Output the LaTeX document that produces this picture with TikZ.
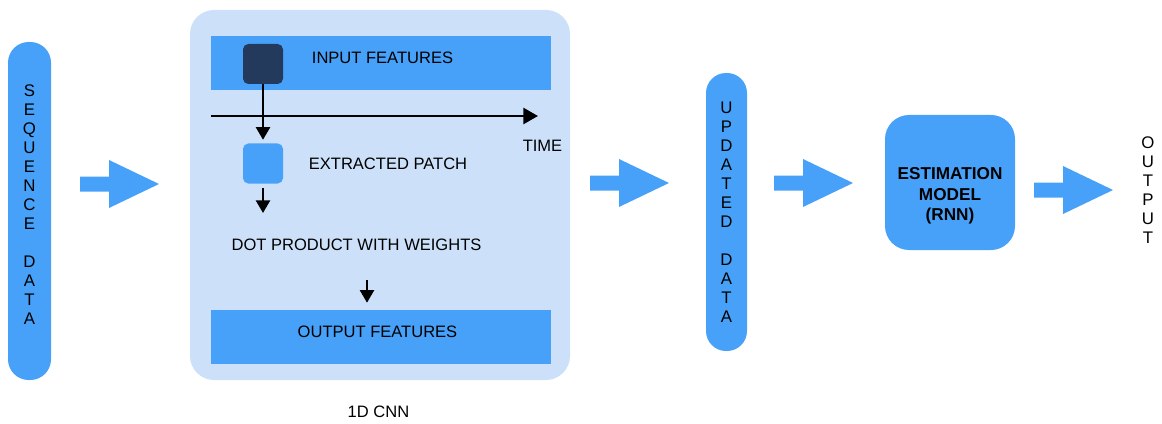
\documentclass[tikz,border=0pt]{standalone}
\usepackage{fontspec}
\setmainfont{Liberation Sans}
\usetikzlibrary{arrows.meta}
\definecolor{mblue}{RGB}{71,161,248}
\definecolor{panelblue}{RGB}{204,225,249}
\definecolor{darksq}{RGB}{35,58,92}
\tikzset{
  txt/.style={inner sep=0pt, font=\fontsize{12.4}{14.9}\selectfont},
  vtxt/.style={inner sep=0pt, align=center, font=\fontsize{12.6}{14.25}\selectfont},
  pill/.style={fill=mblue, inner sep=0pt},
  barbox/.style={fill=mblue, inner sep=0pt, minimum width=255pt, minimum height=40.5pt},
  sqbox/.style={inner sep=0pt, minimum size=30pt, rounded corners=4pt},
  conn/.style={line width=1.9pt, -{Triangle[length=9.5pt,width=10.5pt]}},
  axisline/.style={line width=1.9pt, -{Triangle[length=11pt,width=12pt]}},
  blockarrow/.pic={\fill[mblue] (0,-7.5) -- (29,-7.5) -- (29,-24) -- (79,0) -- (29,24) -- (29,7.5) -- (0,7.5) -- cycle;}
}
\begin{document}
\begin{tikzpicture}[x=0.75pt,y=-0.75pt]
\useasboundingbox (0,0) rectangle (1162,424);

% sequence data
\node[pill, rounded corners=15.5pt, minimum width=32.25pt, minimum height=253.5pt] (seq) at (29.5,211) {};
\node[vtxt] (seqlabel) at (29.5,204.5) {S\\E\\Q\\U\\E\\N\\C\\E\\[14.25pt]D\\A\\T\\A};

\pic (arr1) at (80,184) {blockarrow};

% 1D CNN panel
\node[fill=panelblue, rounded corners=18pt, inner sep=0pt, minimum width=285pt, minimum height=277.5pt] (cnn) at (380,195) {};
\node[barbox] (inbar) at (381,63) {};
\node[sqbox, fill=darksq] (src) at (263,64) {};
\node[txt] (inlabel) at (382.5,58) {INPUT FEATURES};

\coordinate (t0) at (211,116);
\coordinate (t1) at (538,116);
\draw[axisline] (t0) -- (t1);
\node[txt] (time) at (542.5,146) {TIME};

\node[sqbox, fill=mblue] (patch) at (263,163.5) {};
\node[txt] (patchlabel) at (388,164) {EXTRACTED PATCH};
\draw[conn, shorten >=2.6pt] (src.south) -- (patch.north);

\coordinate (a2) at (263,213);
\draw[conn, shorten <=3.4pt] (patch.south) -- (a2);

\node[txt] (dot) at (356.5,245) {DOT PRODUCT WITH WEIGHTS};

\node[barbox] (outbar) at (381,337) {};
\node[txt] (outlabel) at (377.5,332) {OUTPUT FEATURES};
\coordinate (a3) at (367,280);
\draw[conn, shorten >=5.25pt] (a3) -- (a3 |- outbar.north);

\node[txt] (cnnlabel) at (378.5,412) {1D CNN};

\pic (arr2) at (590,183) {blockarrow};

% updated data
\node[pill, rounded corners=15pt, minimum width=30.75pt, minimum height=208.5pt] (upd) at (726.5,212) {};
\node[vtxt] (updlabel) at (726.5,212) {U\\P\\D\\A\\T\\E\\D\\[14.25pt]D\\A\\T\\A};

\pic (arr3) at (774,183) {blockarrow};

% estimation model
\node[fill=mblue, rounded corners=18pt, inner sep=0pt, minimum width=97.5pt, minimum height=101.25pt] (est) at (950,182.5) {};
\node[inner sep=0pt, align=center, font=\fontsize{12.9}{15.4}\selectfont\bfseries] (estlabel) at (950,196) {ESTIMATION\\MODEL\\(RNN)};

\pic (arr4) at (1034,190) {blockarrow};

\node[vtxt] (outtxt) at (1148,190) {O\\U\\T\\P\\U\\T};
\end{tikzpicture}
\end{document}
